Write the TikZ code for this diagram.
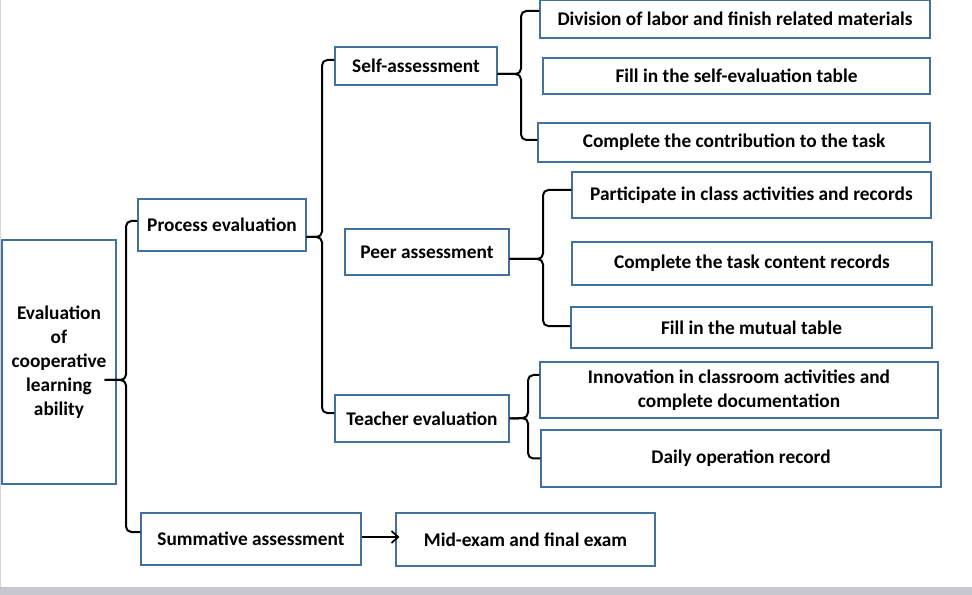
\documentclass[tikz,border=0pt]{standalone}
\usepackage{fontspec}
\setmainfont{Carlito}
\usetikzlibrary{arrows.meta}
\definecolor{boxblue}{HTML}{41719C}
\definecolor{stripgray}{HTML}{C7C8CD}
\definecolor{edgegray}{HTML}{D6D6D8}
\begin{document}
\begin{tikzpicture}[x=0.75pt,y=-0.75pt,
  box/.style={draw=boxblue, line width=0.8pt, inner sep=0pt, align=center,
    font=\fontsize{14.5}{18}\selectfont\bfseries},
  wh/.style 2 args={minimum width=#1*0.75pt, minimum height=#2*0.75pt},
  brace/.style={line width=1.5pt, rounded corners=4pt},
  arr/.style={line width=1.3pt, -{Straight Barb[length=5pt,width=9pt]}}]
\useasboundingbox (0,0) rectangle (972,595);
\fill[white] (0,0) rectangle (972,595);
\fill[stripgray] (0,587) rectangle (972,595);
\fill[edgegray] (0,0) rectangle (1.5,587);

% nodes
\node[box, wh={114}{244}] (eval) at (59,362) {Evaluation\\of\\cooperative\\learning\\ability};
\node[box, wh={168}{52}] (proc) at (222,225) {Process evaluation};
\node[box, wh={220}{52}] (summ) at (251,539) {Summative assessment};
\node[box, wh={259}{53}] (mid) at (525.5,539.5) {Mid-exam and final exam};
\node[box, wh={162}{38}] (self) at (416,66) {Self-assessment};
\node[box, wh={164}{46}] (peer) at (427,252) {Peer assessment};
\node[box, wh={174}{47}] (teach) at (422,418.5) {Teacher evaluation};
\node[box, wh={390}{38}] (div) at (735,19) {Division of labor and finish related materials};
\node[box, wh={387}{36}] (fillself) at (736.5,76) {Fill in the self-evaluation table};
\node[box, wh={392}{39}] (contrib) at (734,142.5) {Complete the contribution to the task};
\node[box, wh={359}{46}] (partic) at (751.5,195) {Participate in class activities and records};
\node[box, wh={360}{43}] (taskrec) at (752,263.5) {Complete the task content records};
\node[box, wh={361}{41}] (mutual) at (751.5,327.5) {Fill in the mutual table};
\node[box, wh={398}{56}] (innov) at (739,390) {Innovation in classroom activities and\\complete documentation};
\node[box, wh={400}{57}] (daily) at (741,458.5) {Daily operation record};

% brace tips
\coordinate (b1) at (126,380);
\coordinate (b2) at (322,237);
\coordinate (b3) at (521,74);
\coordinate (b4) at (543,259);
\coordinate (b5) at (528,418);

% evaluation brace
\draw[brace] ([yshift=3pt]proc.west) -| (b1) -- ([xshift=-9pt,yshift=-13.5pt]eval.east);
\draw[brace] ([yshift=5.25pt]summ.west) -| (b1) -- ([xshift=-9pt,yshift=-13.5pt]eval.east);
% process brace
\draw[brace] ([yshift=4.5pt]self.west) -| (b2) -- ([yshift=-9pt]proc.east);
\draw[brace] ([yshift=4.1pt]teach.west) -| (b2) -- ([yshift=-9pt]proc.east);
% self brace
\draw[brace] ([yshift=6pt]div.west) -| (b3) -- ([yshift=-6pt]self.east);
\draw[brace] ([yshift=1.9pt]contrib.west) -| (b3) -- ([yshift=-6pt]self.east);
% peer brace
\draw[brace] ([yshift=3.75pt]partic.west) -| (b4) -- ([yshift=-5.25pt]peer.east);
\draw[brace] ([yshift=1.1pt]mutual.west) -| (b4) -- ([yshift=-5.25pt]peer.east);
% teacher brace
\draw[brace] ([yshift=11.25pt]innov.west) -| (b5) -- (teach.east);
\draw[brace] (daily.west) -| (b5) -- (teach.east);

% arrow
\draw[arr, shorten >=-3pt] ([yshift=1.5pt]summ.east) -- ([yshift=1.5pt]summ.east -| mid.west);
\end{tikzpicture}
\end{document}
